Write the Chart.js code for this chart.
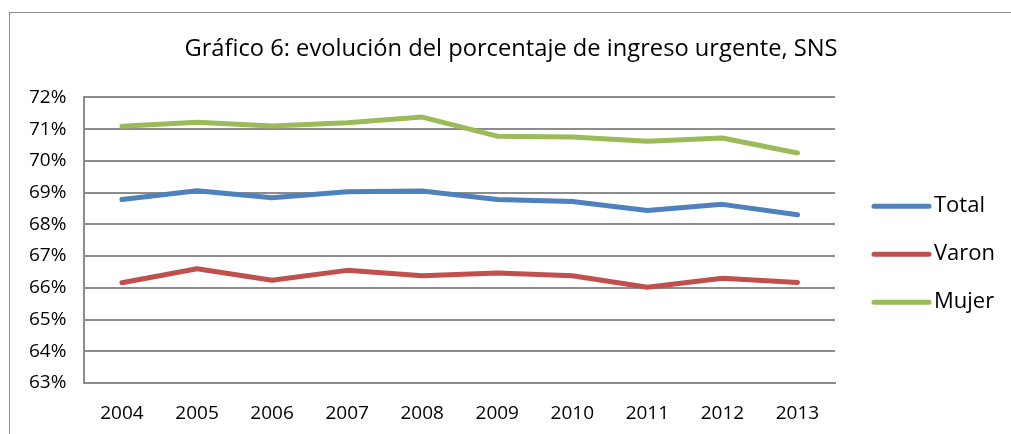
<!DOCTYPE html>
<html>
<head>
<meta charset="utf-8">
<script src="https://cdn.jsdelivr.net/npm/chart.js@4/dist/chart.umd.min.js"></script>
<style>
  html, body { margin: 0; padding: 0; background: #fff; overflow: hidden; }
  #wrap { position: relative; width: 1011px; height: 434px; }
  #frame { position: absolute; left: 9px; top: 12px; width: 1100px; height: 500px; border: 1px solid #8c8c8c; box-sizing: border-box; pointer-events: none; }
</style>
</head>
<body>
<div id="wrap">
  <canvas id="myChart" width="1011" height="434"></canvas>
  <div id="frame"></div>
</div>
<script>
// datos
const years = ["2004", "2005", "2006", "2007", "2008", "2009", "2010", "2011", "2012", "2013"];
const total = [68.78, 69.06, 68.84, 69.03, 69.05, 68.78, 68.72, 68.44, 68.63, 68.30];
const varon = [66.16, 66.60, 66.24, 66.55, 66.38, 66.47, 66.38, 66.02, 66.30, 66.17];
const mujer = [71.09, 71.22, 71.10, 71.20, 71.38, 70.78, 70.75, 70.62, 70.72, 70.25];

const seriesNames = ["Total", "Varon", "Mujer"];
const seriesColors = ["#4F81BD", "#C0504D", "#9BBB59"];

const fontFam = "'Open Sans', sans-serif";

// leyenda dibujada a mano a la derecha
const sideLegend = {
  id: "sideLegend",
  afterDraw(chart) {
    const c = chart.ctx;
    const area = chart.chartArea;
    const mid = (area.top + area.bottom) / 2;
    c.save();
    c.font = "22px " + fontFam;
    c.textBaseline = "middle";
    chart.data.datasets.forEach((ds, i) => {
      const y = mid + (i - 1) * 48 + 14;
      const x = area.right + 39;
      c.strokeStyle = ds.borderColor;
      c.lineWidth = 5;
      c.lineCap = "round";
      c.beginPath();
      c.moveTo(x, y);
      c.lineTo(x + 55, y);
      c.stroke();
      c.fillStyle = "#000";
      c.fillText(ds.label, x + 60, y);
    });
    c.restore();
  }
};

const ctx = document.getElementById("myChart");

new Chart(ctx, {
  type: "line",
  data: {
    labels: years,
    datasets: [
      { label: seriesNames[0], data: total, borderColor: seriesColors[0], backgroundColor: seriesColors[0] },
      { label: seriesNames[1], data: varon, borderColor: seriesColors[1], backgroundColor: seriesColors[1] },
      { label: seriesNames[2], data: mujer, borderColor: seriesColors[2], backgroundColor: seriesColors[2] },
    ],
  },
  options: {
    responsive: false,
    animation: false,
    devicePixelRatio: 1,
    elements: {
      line: { borderWidth: 5, tension: 0, borderCapStyle: "round", borderJoinStyle: "round" },
      point: { radius: 0 },
    },
    layout: { padding: { left: 11, right: 0, top: 0, bottom: 0 } },
    plugins: {
      legend: { display: false },
      tooltip: { enabled: false },
      title: {
        display: true,
        text: "Gráfico 6: evolución del porcentaje de ingreso urgente, SNS",
        color: "#000",
        font: { family: fontFam, size: 23.7, weight: "normal" },
        padding: { top: 35, bottom: 34 },
      },
    },
    scales: {
      x: {
        offset: true,
        grid: { display: false, drawTicks: false },
        border: { display: true, color: "#8c8c8c", width: 2 },
        ticks: { color: "#000", font: { family: fontFam, size: 19 }, padding: 19, maxRotation: 0 },
        afterFit: (s) => { s.height = 51; },
      },
      y: {
        min: 63,
        max: 72,
        grid: { color: "#8c8c8c", lineWidth: 2, drawTicks: false },
        border: { display: true, color: "#8c8c8c", width: 2 },
        ticks: {
          stepSize: 1,
          color: "#000",
          font: { family: fontFam, size: 19 },
          padding: 18,
          callback: (v) => v + "%",
        },
      },
      // eje vacío que reserva el hueco de la leyenda
      legendSpace: {
        type: "linear",
        position: "right",
        display: true,
        grid: { display: false, drawTicks: false },
        border: { display: false },
        ticks: { display: false },
        afterFit: (s) => { s.width = 176; },
      },
    },
  },
  plugins: [sideLegend],
});
</script>
</body>
</html>
